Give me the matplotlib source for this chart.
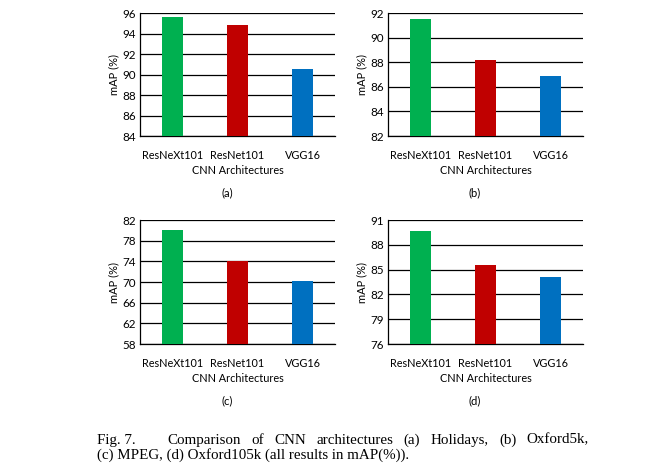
import matplotlib
matplotlib.use('Agg')
import matplotlib.pyplot as plt

W, H = 663, 469

archs = ['ResNeXt101', 'ResNet101', 'VGG16']
colors = ['#00B050', '#C00000', '#0070C0']

holidays = [95.6, 94.8, 90.5]
oxford5k = [91.5, 88.2, 86.9]
mpeg = [80.1, 74.0, 70.2]
oxford105k = [89.7, 85.6, 84.1]

panels = [
  # values, yticks, label, (x0, x1, ytop, ybot) in pixels
  (holidays, [84, 86, 88, 90, 92, 94, 96], '(a)', (140, 335, 13, 136)),
  (oxford5k, [82, 84, 86, 88, 90, 92], '(b)', (388, 583, 13, 136)),
  (mpeg, [58, 62, 66, 70, 74, 78, 82], '(c)', (140, 335, 220, 344)),
  (oxford105k, [76, 79, 82, 85, 88, 91], '(d)', (388, 583, 220, 344)),
]

font = 'Lato'
fs = 7.8

fig = plt.figure(figsize=(W/100., H/100.), dpi=100)

for vals, yt, lab, (x0, x1, yt_px, yb_px) in panels:
  ax = fig.add_axes([x0/W, 1 - yb_px/H, (x1 - x0)/W, (yb_px - yt_px)/H])
  ax.set_axisbelow(True)
  ax.bar(range(3), vals, width=0.33, color=colors, zorder=3)
  ax.set_xlim(-0.5, 2.5)
  ax.set_ylim(yt[0], yt[-1])
  ax.set_yticks(yt)
  ax.yaxis.grid(True, color='black', linewidth=0.9)
  ax.set_xticks(range(3))
  ax.set_xticklabels(archs, fontsize=fs, family=font)
  for t in ax.get_yticklabels():
    t.set_fontsize(fs + 0.6)
    t.set_family(font)
  ax.tick_params(length=0, pad=3)
  ax.tick_params(axis='x', pad=10)
  for s in ['top', 'right']:
    ax.spines[s].set_visible(False)
  for s in ['left', 'bottom']:
    ax.spines[s].set_linewidth(0.9)
  ax.set_xlabel('CNN Architectures', fontsize=fs, family=font, labelpad=3)
  ax.set_ylabel('mAP (%)', fontsize=fs + 0.2, family=font, labelpad=2)
  fig.text((x0 + 87)/W, 1 - (yb_px + 57)/H, lab, fontsize=fs + 0.3, family=font,
           ha='center', va='center')

# caption, first line justified between x=167 and x=589
cap = 'Liberation Serif'
cfs = 10.8
fig.text(97/W, 1 - 440/H, 'Fig. 7.', fontsize=cfs, family=cap, va='center')
words = 'Comparison of CNN architectures (a) Holidays, (b) Oxford5k,'.split()
r = fig.canvas.get_renderer()
objs = [fig.text(0, 1 - 440/H, w, fontsize=cfs, family=cap, va='center') for w in words]
widths = [o.get_window_extent(r).width for o in objs]
gap = (589 - 167 - sum(widths)) / (len(words) - 1)
x = 167.
for o, wd in zip(objs, widths):
  o.set_x(x/W)
  x += wd + gap
fig.text(97/W, 1 - 455/H, '(c) MPEG, (d) Oxford105k (all results in mAP(%)).',
         fontsize=cfs, family=cap, va='center')

fig.savefig('out.png', dpi=100)
